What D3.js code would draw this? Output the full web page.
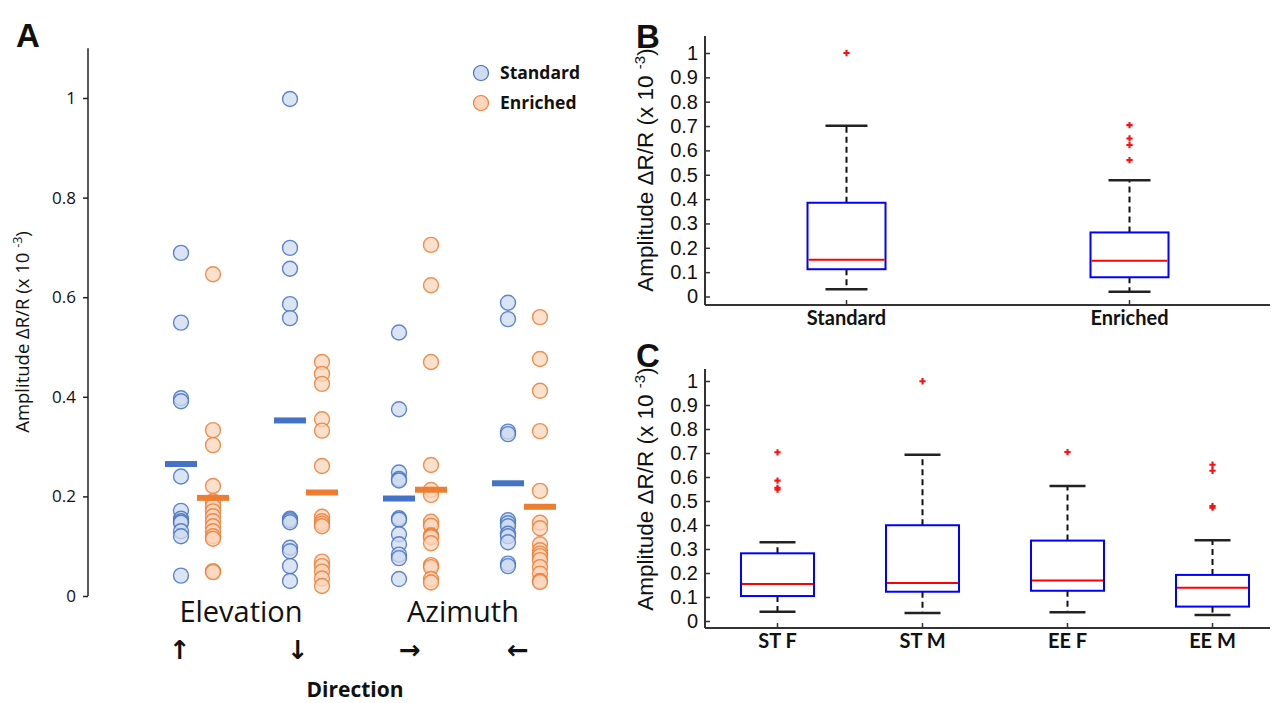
<!DOCTYPE html>
<html><head><meta charset="utf-8">
<script src="https://cdn.jsdelivr.net/npm/d3@7"></script>
<style>body{margin:0;background:#fff}</style>
</head><body>
<svg id="c" width="1277" height="703"></svg>
<script>
// ---------- DATA ----------
const directions = ["up", "down", "right", "left"];
const arrowLabels = ["↑", "↓", "→", "←"];
const seriesNames = ["Standard", "Enriched"];
const standardVals = [
  [0.689, 0.549, 0.397, 0.391, 0.240, 0.171, 0.155, 0.150, 0.147, 0.130, 0.120, 0.041],
  [0.998, 0.699, 0.657, 0.586, 0.558, 0.155, 0.152, 0.148, 0.097, 0.090, 0.060, 0.030],
  [0.529, 0.375, 0.248, 0.235, 0.232, 0.156, 0.153, 0.124, 0.104, 0.083, 0.076, 0.034],
  [0.589, 0.556, 0.330, 0.325, 0.152, 0.146, 0.140, 0.125, 0.120, 0.108, 0.065, 0.060]
];
const enrichedVals = [
  [0.646, 0.333, 0.303, 0.221, 0.190, 0.180, 0.170, 0.160, 0.150, 0.140, 0.130, 0.120, 0.115, 0.050, 0.048],
  [0.470, 0.446, 0.426, 0.355, 0.332, 0.261, 0.159, 0.150, 0.145, 0.140, 0.069, 0.060, 0.049, 0.035, 0.020],
  [0.705, 0.624, 0.470, 0.263, 0.213, 0.203, 0.149, 0.141, 0.122, 0.120, 0.118, 0.106, 0.062, 0.058, 0.034, 0.027],
  [0.560, 0.476, 0.412, 0.331, 0.211, 0.147, 0.136, 0.104, 0.092, 0.085, 0.080, 0.072, 0.058, 0.045, 0.030, 0.028]
];
const ticksA = [0, 0.2, 0.4, 0.6, 0.8, 1];

const groupsB = ["Standard", "Enriched"];
const q1B = [0.112, 0.079];
const medB = [0.151, 0.147];
const q3B = [0.385, 0.263];
const whiskLoB = [0.030, 0.019];
const whiskHiB = [0.701, 0.477];
const outliersB = [[1.0], [0.704, 0.649, 0.622, 0.560]];

const groupsC = ["ST F", "ST M", "EE F", "EE M"];
const q1C = [0.104, 0.122, 0.126, 0.060];
const medC = [0.154, 0.158, 0.169, 0.139];
const q3C = [0.282, 0.399, 0.335, 0.192];
const whiskLoC = [0.039, 0.033, 0.036, 0.025];
const whiskHiC = [0.328, 0.693, 0.5625, 0.336];
const outliersC = [[0.703, 0.585, 0.555, 0.548], [0.999], [0.704], [0.651, 0.626, 0.479, 0.472]];
const ticksBC = [0, 0.1, 0.2, 0.3, 0.4, 0.5, 0.6, 0.7, 0.8, 0.9, 1];

// ---------- STYLE ----------
const svg = d3.select("#c");
const blue = "#4472C4", blueFill = "#cfdbf0";
const orange = "#ED7D31", orangeFill = "#fbd6bd";
const fmt = d3.format(".1~f");

// ---------- PANEL A ----------
const yA = d3.scaleLinear().domain([0, 1]).range([596, 98]);
const xDir = d3.scaleBand().domain(directions).range([142.5, 578.5]);
const xSer = d3.scaleBand().domain(seriesNames).range([-32, 32]);
const gA = svg.append("g");

const axA = gA.append("g").attr("transform", "translate(88,0)")
  .call(d3.axisLeft(yA).tickValues(ticksA).tickFormat(fmt).tickSize(5).tickSizeOuter(0).tickPadding(7));
axA.select(".domain").attr("d", `M0,${yA(1.1)}V${yA(0)}`).attr("stroke", "#222").attr("stroke-width", 1.5);
axA.selectAll(".tick line").attr("stroke", "#222").attr("stroke-width", 1.5);
axA.selectAll(".tick text").attr("font-family", "'Open Sans', sans-serif").attr("font-size", 17).attr("fill", "#111");

gA.append("text").attr("transform", "translate(29,332) rotate(-90)")
  .attr("text-anchor", "middle").attr("font-family", "'Open Sans', sans-serif").attr("font-size", 18.5).attr("fill", "#111")
  .call(t => { t.append("tspan").text("Amplitude ΔR/R (x 10 ");
               t.append("tspan").attr("dy", -7).attr("font-size", 12.5).text("-3");
               t.append("tspan").attr("dy", 7).text(")"); });

const seriesData = [
  {name: "Standard", vals: standardVals, stroke: blue, fill: blueFill},
  {name: "Enriched", vals: enrichedVals, stroke: orange, fill: orangeFill}
];
seriesData.forEach(s => {
  directions.forEach((d, i) => {
    const cx = xDir(d) + xDir.bandwidth() / 2 + xSer(s.name) + xSer.bandwidth() / 2;
    gA.append("g").selectAll("circle").data(s.vals[i]).join("circle")
      .attr("cx", cx).attr("cy", v => yA(v)).attr("r", 7.5)
      .attr("fill", s.fill).attr("fill-opacity", 0.75)
      .attr("stroke", s.stroke).attr("stroke-width", 1.4).attr("stroke-opacity", 0.85);
  });
});
seriesData.forEach(s => {
  directions.forEach((d, i) => {
    const x0 = xDir(d) + xDir.bandwidth() / 2 + xSer(s.name);
    gA.append("rect").attr("x", x0).attr("width", xSer.bandwidth())
      .attr("y", yA(d3.mean(s.vals[i])) - 3).attr("height", 6).attr("fill", s.stroke);
  });
});

// legend
seriesData.forEach((s, i) => {
  const ly = 73 + i * 30;
  gA.append("circle").attr("cx", 481).attr("cy", ly).attr("r", 7.5)
    .attr("fill", s.fill).attr("stroke", s.stroke).attr("stroke-width", 1.2);
  gA.append("text").attr("x", 500).attr("y", ly + 6).text(s.name)
    .attr("font-family", "'Open Sans', sans-serif").attr("font-weight", "bold").attr("font-size", 17.5).attr("fill", "#111");
});

// direction labels
gA.append("text").attr("x", 241).attr("y", 622).attr("text-anchor", "middle").text("Elevation")
  .attr("font-family", "'Open Sans', sans-serif").attr("font-size", 29).attr("fill", "#111");
gA.append("text").attr("x", 463).attr("y", 622).attr("text-anchor", "middle").text("Azimuth")
  .attr("font-family", "'Open Sans', sans-serif").attr("font-size", 29).attr("fill", "#111");
const arrowShift = [-17, -8, -5, -6];
directions.forEach((d, i) => {
  gA.append("text").attr("x", xDir(d) + xDir.bandwidth() / 2 + arrowShift[i]).attr("y", 659)
    .attr("text-anchor", "middle").text(arrowLabels[i])
    .attr("font-family", "'DejaVu Sans', sans-serif").attr("font-weight", "bold")
    .attr("font-size", 26).attr("fill", "#111");
});
gA.append("text").attr("x", 355).attr("y", 697).attr("text-anchor", "middle").text("Direction")
  .attr("font-family", "'Open Sans', sans-serif").attr("font-weight", "bold").attr("font-size", 21).attr("fill", "#111");

// panel letters
const letter = (t, x, y) => svg.append("text").attr("x", x).attr("y", y).text(t)
  .attr("font-family", "'Liberation Sans', Arial, sans-serif").attr("font-weight", "bold").attr("font-size", 33).attr("fill", "#111");
letter("A", 16, 47);
letter("B", 636, 48);
letter("C", 636, 367);

// ---------- BOX PANELS ----------
function boxPanel(o) {
  const g = svg.append("g");
  const y = d3.scaleLinear().domain([0, 1]).range([o.y0, o.y1]);
  const x = d3.scaleBand().domain(o.groups).range([o.xl, o.xr]);
  const cx = d => x(d) + x.bandwidth() / 2;
  o.groups.forEach((d, i) => {
    g.append("line").attr("x1", cx(d)).attr("x2", cx(d)).attr("y1", y(o.q3[i])).attr("y2", y(o.hi[i]))
      .attr("stroke", "#111").attr("stroke-width", 2).attr("stroke-dasharray", "6,4");
    g.append("line").attr("x1", cx(d)).attr("x2", cx(d)).attr("y1", y(o.q1[i])).attr("y2", y(o.lo[i]))
      .attr("stroke", "#111").attr("stroke-width", 2).attr("stroke-dasharray", "6,4");
    [o.hi[i], o.lo[i]].forEach(v => g.append("line").attr("x1", cx(d) - o.cap / 2).attr("x2", cx(d) + o.cap / 2)
      .attr("y1", y(v)).attr("y2", y(v)).attr("stroke", "#222").attr("stroke-width", 2.5));
    g.append("rect").attr("x", cx(d) - o.bw / 2).attr("width", o.bw)
      .attr("y", y(o.q3[i])).attr("height", y(o.q1[i]) - y(o.q3[i]))
      .attr("fill", "none").attr("stroke", "#0000ff").attr("stroke-width", 2);
    g.append("line").attr("x1", cx(d) - o.bw / 2 + 1).attr("x2", cx(d) + o.bw / 2 - 1)
      .attr("y1", y(o.med[i])).attr("y2", y(o.med[i])).attr("stroke", "#ff0000").attr("stroke-width", 2);
    g.append("g").selectAll("path").data(o.out[i]).join("path")
      .attr("transform", v => `translate(${cx(d)},${y(v)})`)
      .attr("d", d3.symbol(d3.symbolCross).size(22)).attr("fill", "#ff1010");
  });
  const ay = g.append("g").attr("transform", `translate(${o.xl},0)`)
    .call(d3.axisLeft(y).tickValues(ticksBC).tickFormat(fmt).tickSize(-5).tickSizeOuter(0).tickPadding(7));
  ay.select(".domain").attr("d", `M0,${y(o.top)}V${o.axisY}`).attr("stroke", "#333").attr("stroke-width", 2);
  ay.selectAll(".tick line").attr("stroke", "#333").attr("stroke-width", 1.5);
  ay.selectAll(".tick text").attr("font-family", "'Liberation Sans', Arial, sans-serif").attr("font-size", 20).attr("fill", "#111");
  const ax = g.append("g").attr("transform", `translate(0,${o.axisY})`)
    .call(d3.axisBottom(x).tickSize(-5).tickSizeOuter(0).tickPadding(6));
  ax.select(".domain").attr("d", `M${o.xl},0H${o.axisEnd}`).attr("stroke", "#333").attr("stroke-width", 2);
  ax.selectAll(".tick line").attr("stroke", "#333").attr("stroke-width", 1.5);
  ax.selectAll(".tick text").attr("font-family", "Lato, sans-serif").attr("font-weight", "bold")
    .attr("font-size", 20).attr("fill", "#111");
  g.append("text").attr("transform", `translate(${o.labX},${o.labY}) rotate(-90)`)
    .attr("text-anchor", "middle").attr("font-family", "'Liberation Sans', Arial, sans-serif").attr("font-size", 22.5).attr("fill", "#111")
    .call(t => { t.append("tspan").text("Amplitude ΔR/R (x 10 ");
                 t.append("tspan").attr("dy", -8).attr("font-size", 15).text("-3");
                 t.append("tspan").attr("dy", 8).text(")"); });
}

boxPanel({groups: groupsB, q1: q1B, med: medB, q3: q3B, lo: whiskLoB, hi: whiskHiB, out: outliersB,
  y0: 296.5, y1: 53, xl: 705, xr: 1271, axisY: 305, axisEnd: 1270, top: 1.07, bw: 78, cap: 42, labX: 653, labY: 170});
boxPanel({groups: groupsC, q1: q1C, med: medC, q3: q3C, lo: whiskLoC, hi: whiskHiC, out: outliersC,
  y0: 621, y1: 381, xl: 705, xr: 1285, axisY: 628, axisEnd: 1270, top: 1.05, bw: 73, cap: 36, labX: 653, labY: 489});
</script>
</body></html>
